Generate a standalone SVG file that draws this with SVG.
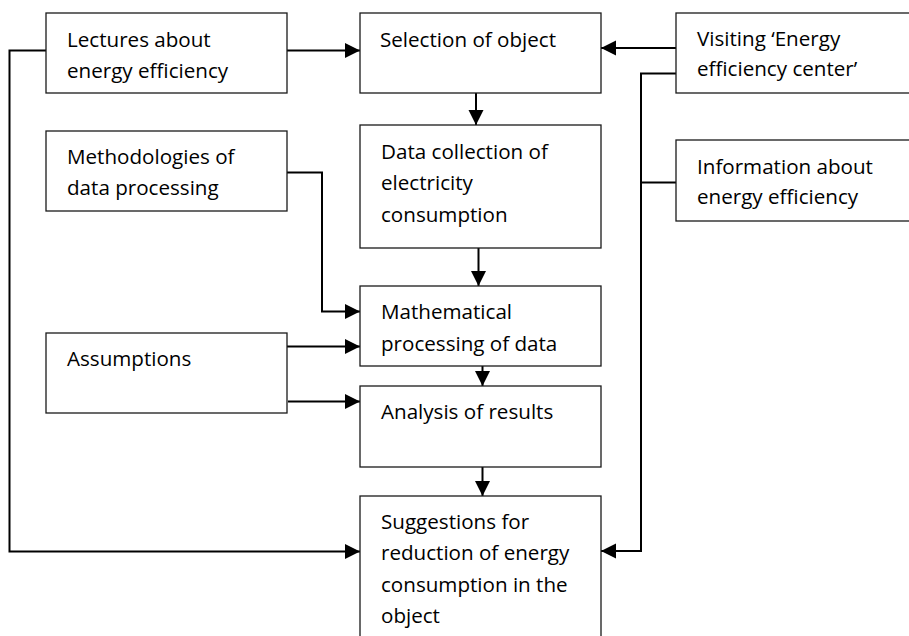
<svg xmlns="http://www.w3.org/2000/svg" width="909" height="636" viewBox="0 0 909 636">
  <style>
    .box { fill: #ffffff; stroke: #1a1a1a; stroke-width: 1.3; }
    .lbl { font-family: "Open Sans", "Liberation Sans", sans-serif; font-size: 20.6px; fill: #000000; }
    .wire { fill: none; stroke: #000000; stroke-width: 2; }
    .arr { marker-end: url(#head); }
  </style>
  <defs>
    <marker id="head" markerUnits="userSpaceOnUse" markerWidth="16" markerHeight="16" refX="15" refY="7.5" orient="auto">
      <path d="M0,0 L15,7.5 L0,15 z" fill="#000000"/>
    </marker>
  </defs>
  <rect width="909" height="636" fill="#ffffff"/>

  <g id="connectors">
    <path class="wire arr" d="M287,50.5 H360"/>
    <path class="wire arr" d="M46,50.5 H9.5 V551.5 H360"/>
    <path class="wire arr" d="M676,48 H601"/>
    <path class="wire arr" d="M676,73.5 H641 V551 H601"/>
    <path class="wire" d="M676,182.5 H641"/>
    <path class="wire arr" d="M476,93 V125"/>
    <path class="wire arr" d="M478.5,248 V286"/>
    <path class="wire arr" d="M287,172.5 H322 V311.5 H360"/>
    <path class="wire arr" d="M287,346.5 H360"/>
    <path class="wire arr" d="M288,401.5 H360"/>
    <path class="wire arr" d="M482.5,366 V386"/>
    <path class="wire arr" d="M482.5,467 V496"/>
  </g>

  <g id="lectures">
    <rect class="box" x="46" y="13" width="241" height="80"/>
    <text class="lbl" x="67" y="46.5">Lectures about</text>
    <text class="lbl" x="67" y="77.5">energy efficiency</text>
  </g>
  <g id="selection">
    <rect class="box" x="360" y="13" width="241" height="80"/>
    <text class="lbl" x="380" y="46.5">Selection of object</text>
  </g>
  <g id="visiting">
    <rect class="box" x="676" y="13" width="245" height="80"/>
    <text class="lbl" x="697" y="45.5">Visiting ‘Energy</text>
    <text class="lbl" x="697" y="76">efficiency center’</text>
  </g>
  <g id="methodologies">
    <rect class="box" x="46" y="131" width="241" height="80"/>
    <text class="lbl" x="67" y="163.5">Methodologies of</text>
    <text class="lbl" x="67" y="195">data processing</text>
  </g>
  <g id="data-collection">
    <rect class="box" x="360" y="125" width="241" height="123"/>
    <text class="lbl" x="381" y="158.5">Data collection of</text>
    <text class="lbl" x="381" y="190">electricity</text>
    <text class="lbl" x="381" y="221.5">consumption</text>
  </g>
  <g id="information">
    <rect class="box" x="676" y="140" width="245" height="81"/>
    <text class="lbl" x="697" y="173.5">Information about</text>
    <text class="lbl" x="697" y="204">energy efficiency</text>
  </g>
  <g id="mathematical">
    <rect class="box" x="360" y="286" width="241" height="80"/>
    <text class="lbl" x="381" y="318.5">Mathematical</text>
    <text class="lbl" x="381" y="350.5">processing of data</text>
  </g>
  <g id="assumptions">
    <rect class="box" x="46" y="333" width="241" height="80"/>
    <text class="lbl" x="67" y="366">Assumptions</text>
  </g>
  <g id="analysis">
    <rect class="box" x="360" y="386" width="241" height="81"/>
    <text class="lbl" x="381" y="418.5">Analysis of results</text>
  </g>
  <g id="suggestions">
    <rect class="box" x="360" y="496" width="241" height="160"/>
    <text class="lbl" x="381" y="528.5">Suggestions for</text>
    <text class="lbl" x="381" y="560">reduction of energy</text>
    <text class="lbl" x="381" y="591.5">consumption in the</text>
    <text class="lbl" x="381" y="623">object</text>
  </g>
</svg>
